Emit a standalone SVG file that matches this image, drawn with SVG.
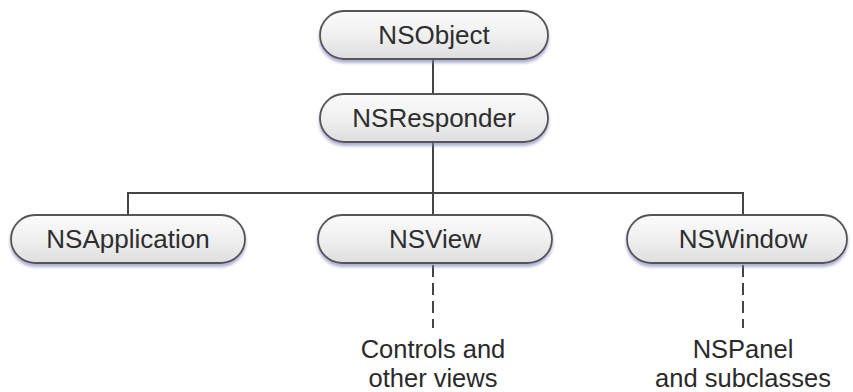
<svg xmlns="http://www.w3.org/2000/svg" width="853" height="392" viewBox="0 0 853 392">
<defs>
<linearGradient id="g" x1="0" y1="0" x2="0" y2="1">
<stop offset="0" stop-color="#fbfbfb"/>
<stop offset="0.5" stop-color="#f0f0f0"/>
<stop offset="1" stop-color="#dedede"/>
</linearGradient>
<filter id="sh" x="-10%" y="-20%" width="120%" height="150%">
<feGaussianBlur in="SourceAlpha" stdDeviation="1.5"/>
<feOffset dx="0" dy="3" result="b"/>
<feFlood flood-color="#7a7ab8" flood-opacity="0.6"/>
<feComposite in2="b" operator="in"/>
<feMerge><feMergeNode/><feMergeNode in="SourceGraphic"/></feMerge>
</filter>
<style>
.box{fill:url(#g);stroke:#555;stroke-width:1.8;filter:url(#sh)}
.t{font-family:"Liberation Sans",Arial,sans-serif;font-size:26px;fill:#2e2e2e;text-anchor:middle}
.l{font-family:"Liberation Sans",Arial,sans-serif;font-size:25.5px;fill:#2a2a2a;text-anchor:middle}
.c{stroke:#444;stroke-width:2;fill:none}
.d{stroke:#444;stroke-width:2;fill:none;stroke-dasharray:12 6}
</style>
</defs>
<rect width="853" height="392" fill="#fff"/>
<g id="connectors">
<line class="c" x1="433" y1="60" x2="433" y2="93"/>
<line class="c" x1="433" y1="142" x2="433" y2="193"/>
<polyline class="c" points="128,215 128,193 743,193 743,215"/>
<line class="c" x1="433" y1="193" x2="433" y2="215"/>
<line class="d" x1="433" y1="265" x2="433" y2="328"/>
<line class="d" x1="743" y1="265" x2="743" y2="328"/>
</g>
<g id="NSObject">
<rect class="box" x="320" y="11" width="228" height="48" rx="24"/>
<text class="t" x="434" y="44">NSObject</text>
</g>
<g id="NSResponder">
<rect class="box" x="320" y="94" width="228" height="48" rx="24"/>
<text class="t" x="434" y="127">NSResponder</text>
</g>
<g id="NSApplication">
<rect class="box" x="11" y="215" width="234" height="48" rx="24"/>
<text class="t" x="128" y="248">NSApplication</text>
</g>
<g id="NSView">
<rect class="box" x="318" y="215" width="234" height="48" rx="24"/>
<text class="t" x="435" y="248">NSView</text>
</g>
<g id="NSWindow">
<rect class="box" x="627" y="215" width="220" height="48" rx="24"/>
<text class="t" x="743" y="248">NSWindow</text>
</g>
<g id="label-controls">
<text class="l" x="433" y="358">Controls and</text>
<text class="l" x="433" y="387">other views</text>
</g>
<g id="label-nspanel">
<text class="l" x="743" y="358">NSPanel</text>
<text class="l" x="743" y="387">and subclasses</text>
</g>
</svg>
